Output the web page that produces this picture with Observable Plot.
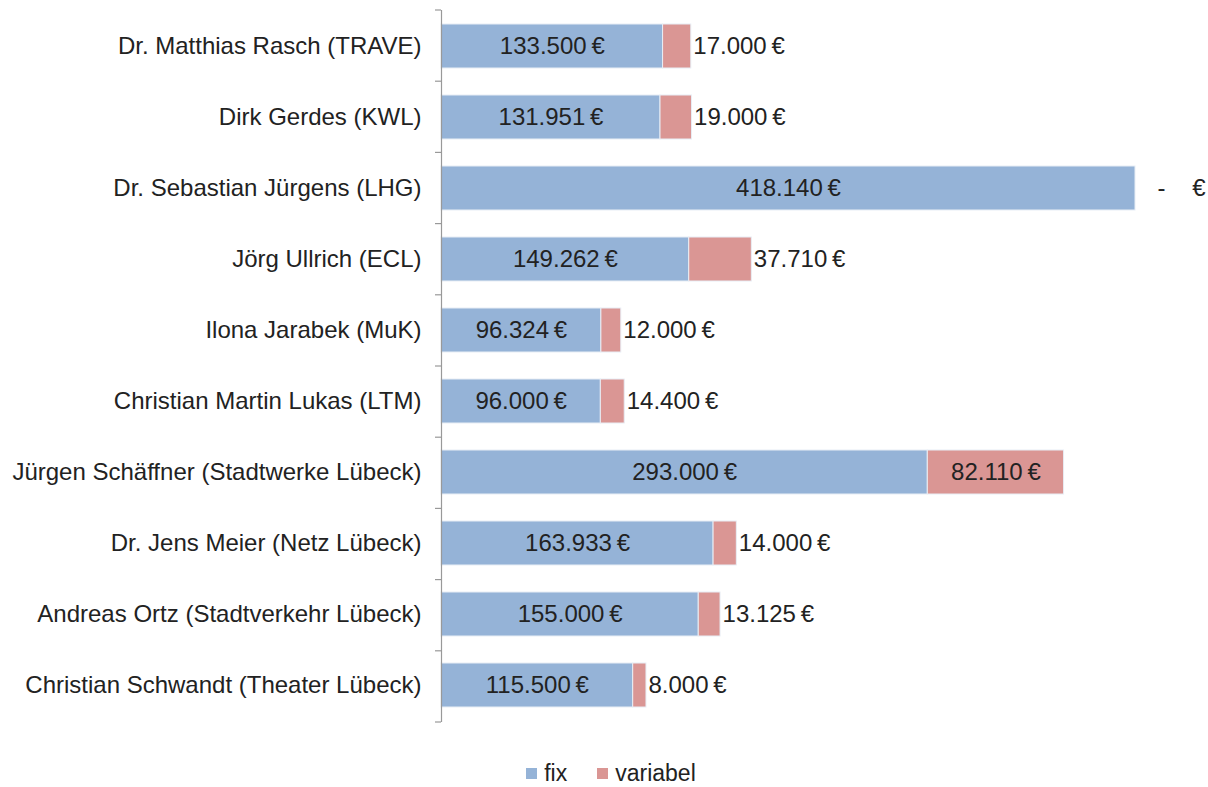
<!DOCTYPE html>
<html><head><meta charset="utf-8">
<script src="https://cdn.jsdelivr.net/npm/d3@7"></script>
<script src="https://cdn.jsdelivr.net/npm/@observablehq/plot@0.6"></script>
<style>
body{margin:0;background:#fff;font-family:"Liberation Sans",Arial,sans-serif;}
#legend{display:flex;justify-content:center;gap:30px;font-size:23px;color:#222;padding-left:14px;margin-top:20px;}
#legend span{display:flex;align-items:center;gap:7px;}
#legend i{display:inline-block;width:11px;height:11px;}
</style></head><body>
<div id="chart"></div>
<div id="legend"><span><i style="background:#95B3D7"></i>fix</span><span><i style="background:#DA9694"></i>variabel</span></div>
<script>
const names = ["Dr. Matthias Rasch (TRAVE)","Dirk Gerdes (KWL)","Dr. Sebastian Jürgens (LHG)","Jörg Ullrich (ECL)","Ilona Jarabek (MuK)","Christian Martin Lukas (LTM)","Jürgen Schäffner (Stadtwerke Lübeck)","Dr. Jens Meier (Netz Lübeck)","Andreas Ortz (Stadtverkehr Lübeck)","Christian Schwandt (Theater Lübeck)"];
const fix = [133500,131951,418140,149262,96324,96000,293000,163933,155000,115500];
const variabel = [17000,19000,0,37710,12000,14400,82110,14000,13125,8000];
const seriesNames = ["fix","variabel"];
const colors = ["#95B3D7","#DA9694"];

const fmt = v => v === 0 ? "-    €" : d3.format(",")(v).replace(/,/g,".") + "\u2009€";
const rows = [];
names.forEach((n,i)=>{
  rows.push({name:n, series:"fix", x1:0, x2:fix[i], v:fix[i]});
  rows.push({name:n, series:"variabel", x1:fix[i], x2:fix[i]+variabel[i], v:variabel[i]});
});
const varRows = rows.filter(d=>d.series==="variabel");
const W=1208, H=740;
const chart = Plot.plot({
  width:W, height:H,
  marginLeft:441, marginRight:73, marginTop:10, marginBottom:18,
  style:{fontFamily:"Liberation Sans, Arial, sans-serif", fontSize:"24px", color:"#222"},
  x:{domain:[0,418140], axis:null},
  y:{domain:names, paddingInner:0.38, paddingOuter:0.19, label:null, tickSize:0, tickPadding:20},
  color:{domain:seriesNames, range:colors},
  marks:[
    Plot.barX(rows,{y:"name", x1:"x1", x2:"x2", fill:"series", stroke:"#e8eef5", strokeWidth:1}),
    Plot.text(rows.filter(d=>d.series==="fix"),{y:"name", x:d=>(d.x1+d.x2)/2, text:d=>fmt(d.v), fontSize:24, fill:"#222"}),
    Plot.text(varRows.filter(d=>d.v>60000),{y:"name", x:d=>(d.x1+d.x2)/2, text:d=>fmt(d.v), fontSize:24, fill:"#222"}),
    Plot.text(varRows.filter(d=>d.v>0 && d.v<=60000),{y:"name", x:"x2", textAnchor:"start", dx:2, text:d=>fmt(d.v), fontSize:24, fill:"#222"}),
    Plot.text(varRows.filter(d=>d.v===0),{y:"name", x:"x2", textAnchor:"start", dx:22, text:d=>fmt(d.v), fontSize:24, fill:"#222"}),
    Plot.ruleX([0],{stroke:"#999", strokeWidth:1.2})
  ]
});
document.getElementById("chart").appendChild(chart);
// category boundary ticks on the axis, from the library's band scale
const ys = chart.scale("y");
const x0 = chart.scale("x").apply(0);
const svg = d3.select(chart);
const stepPx = (ys.range[1]-ys.range[0])/names.length;
for (let k=0;k<=names.length;k++){
  const yy = ys.range[0] + k*stepPx;
  svg.append("line").attr("x1",x0-6).attr("x2",x0).attr("y1",yy).attr("y2",yy).attr("stroke","#999").attr("stroke-width",1.2);
}
</script></body></html>
